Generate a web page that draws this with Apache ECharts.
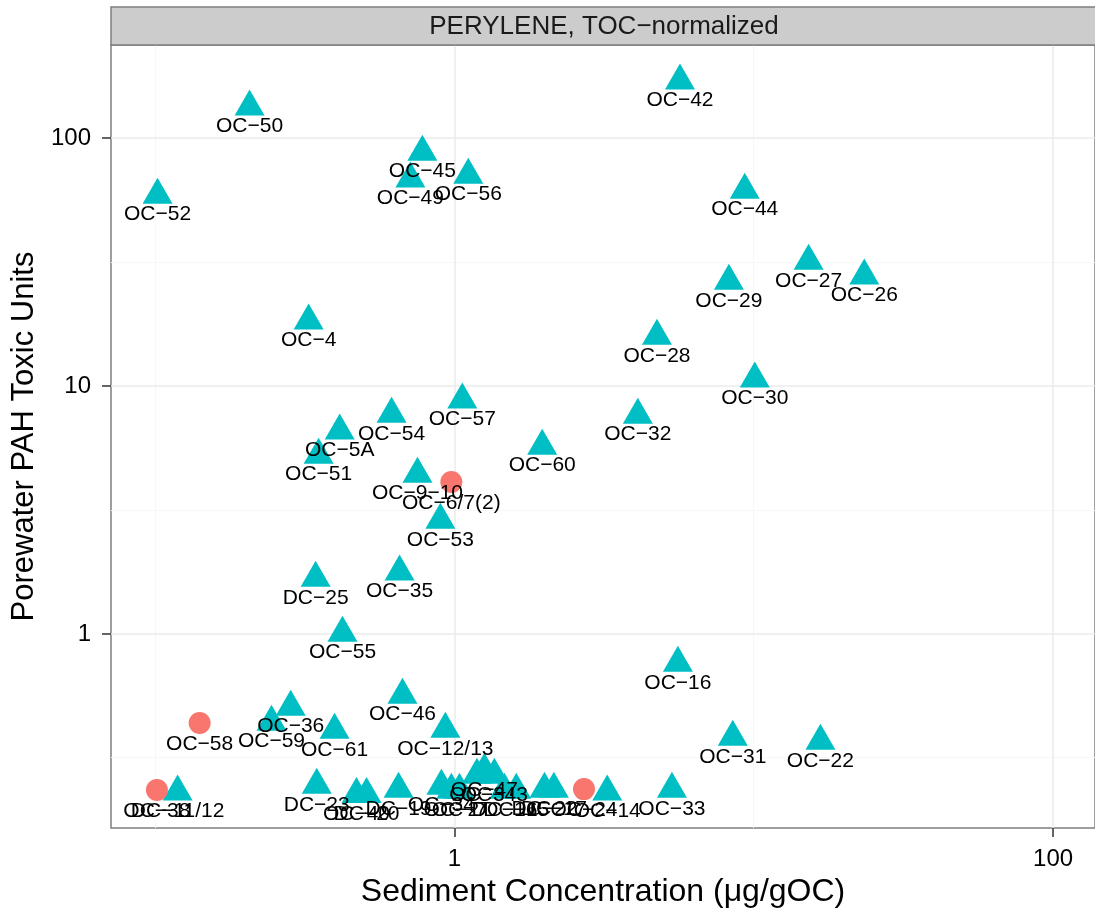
<!DOCTYPE html>
<html>
<head>
<meta charset="utf-8">
<script src="https://cdn.jsdelivr.net/npm/echarts@6/dist/echarts.min.js"></script>
<style>
html,body{margin:0;padding:0;background:#fff;}
#c{width:1095px;height:913px;}
</style>
</head>
<body>
<div id="c"></div>
<script>
// ---- data (Sediment concentration µg/gOC, porewater PAH toxic units) ----
const triNames = ["OC−42","OC−50","OC−52","OC−45","OC−56","OC−49","OC−44","OC−27","OC−26","OC−29",
  "OC−4","OC−28","OC−30","OC−57","OC−54","OC−32","OC−5A","OC−51","OC−60","OC−9−10",
  "OC−53","DC−25","OC−35","OC−55","OC−16","OC−46","OC−36","OC−59","OC−61","OC−12/13",
  "OC−31","OC−22","DC−11/12","DC−23","OC−40","DC−20","DC−19","OC−34","OC−2","OC−7",
  "OC−3","OC−47","OC−43","DC−16","DC−15","DC−22","DC−17","OC−14","OC−33"];
const triX = [5.67,0.207,0.102,0.782,1.113,0.713,9.33,15.25,23.4,8.26,
  0.326,4.75,10.08,1.063,0.617,4.10,0.414,0.352,1.965,0.753,
  0.898,0.344,0.656,0.423,5.58,0.671,0.284,0.245,0.398,0.933,
  8.51,16.7,0.119,0.347,0.471,0.509,0.651,0.905,0.977,1.04,
  1.19,1.26,1.36,1.47,1.61,2.0,2.15,3.24,5.33];
const triY = [169.8,133.4,58.9,87.8,70.9,68.4,61.7,31.9,27.8,26.5,
  18.3,15.9,10.7,8.79,7.71,7.64,6.59,5.27,5.73,4.42,
  2.88,1.68,1.78,1.01,0.764,0.568,0.508,0.442,0.410,0.414,
  0.384,0.370,0.231,0.246,0.226,0.226,0.237,0.244,0.235,0.235,
  0.270,0.283,0.270,0.235,0.235,0.237,0.237,0.231,0.237];
const cirNames = ["OC−58","OC−6/7(2)","OC−38","OC−24"];
const cirX = [0.141,0.977,0.1015,2.71];
const cirY = [0.438,4.10,0.235,0.237];

// axis tick values / gridlines
const xMajor = [1,100];
const xMinor = [0.1,10];
const yMajor = [1,10,100];
const yMinor = [0.3162,3.162,31.62];
const xRange = [0.0713,138];
const yRange = [0.1652,237];

const stripTitle = "PERYLENE, TOC−normalized";
const xTitle = "Sediment Concentration (μg/gOC)";
const yTitle = "Porewater PAH Toxic Units";

const FONT = "Liberation Sans, Arial, Helvetica, sans-serif";
const G = {left:111, top:45, width:986, height:783};

const chart = echarts.init(document.getElementById('c'), null, {renderer:'canvas'});

function fmt(v){ const r = Math.round(v*1000)/1000; return String(r); }

const gridLines = [];
xMinor.forEach(v=>gridLines.push({xAxis:v, lineStyle:{color:'#F7F7F7', width:1, type:'solid'}}));
yMinor.forEach(v=>gridLines.push({yAxis:v, lineStyle:{color:'#F7F7F7', width:1, type:'solid'}}));
xMajor.forEach(v=>gridLines.push({xAxis:v, lineStyle:{color:'#EBEBEB', width:1.5, type:'solid'}}));
yMajor.forEach(v=>gridLines.push({yAxis:v, lineStyle:{color:'#EBEBEB', width:1.5, type:'solid'}}));

const labelCommon = {show:true, position:'inside', color:'#000', fontFamily:FONT, fontSize:21, formatter:p=>p.data[2]};

chart.setOption({
  animation:false,
  backgroundColor:'#fff',
  grid:{left:G.left, top:G.top, width:G.width, height:G.height, show:true, borderColor:'#7F7F7F', borderWidth:1.5, backgroundColor:'transparent', containLabel:false},
  xAxis:{type:'log', logBase:10, min:xRange[0], max:xRange[1],
    name:xTitle, nameLocation:'middle', nameGap:50,
    nameTextStyle:{fontFamily:FONT, fontSize:32, color:'#000', verticalAlign:'middle'},
    axisLine:{show:false}, splitLine:{show:false}, minorSplitLine:{show:false},
    axisTick:{show:true, inside:false, length:9, customValues:xMajor, lineStyle:{color:'#333', width:1.5}},
    axisLabel:{show:true, customValues:xMajor, formatter:fmt, margin:19, fontFamily:FONT, fontSize:24, color:'#000'}},
  yAxis:{type:'log', logBase:10, min:yRange[0], max:yRange[1],
    name:yTitle, nameLocation:'middle', nameGap:71,
    nameTextStyle:{fontFamily:FONT, fontSize:31, color:'#000', verticalAlign:'middle'},
    axisLine:{show:false}, splitLine:{show:false}, minorSplitLine:{show:false},
    axisTick:{show:true, inside:false, length:9, customValues:yMajor, lineStyle:{color:'#333', width:1.5}},
    axisLabel:{show:true, customValues:yMajor, formatter:fmt, margin:20, fontFamily:FONT, fontSize:24, color:'#000'}},
  graphic:[
    {type:'rect', shape:{x:G.left, y:7, width:G.width, height:38}, style:{fill:'#CCCCCC', stroke:'#7F7F7F', lineWidth:1.5}, z:10},
    {type:'text', x:G.left+G.width/2, y:27, style:{text:stripTitle, fontFamily:FONT, fontSize:26, fill:'#1A1A1A', align:'center', verticalAlign:'middle'}, z:11}
  ],
  series:[
    {type:'scatter', data:[], silent:true, z:0,
      markLine:{silent:true, z:0, symbol:'none', label:{show:false}, data:gridLines, animation:false}},
    {type:'scatter', z:3, symbol:'triangle', symbolSize:[30,26], symbolOffset:[0,-4.3],
      itemStyle:{color:'#00BFC4', opacity:1},
      label:Object.assign({offset:[0,24]}, labelCommon),
      data:triX.map((x,i)=>[x, triY[i], triNames[i]])},
    {type:'scatter', z:3, symbol:'circle', symbolSize:22,
      itemStyle:{color:'#F8766D', opacity:1},
      label:Object.assign({offset:[0,21]}, labelCommon),
      data:cirX.map((x,i)=>[x, cirY[i], cirNames[i]])}
  ]
});
</script>
</body>
</html>
